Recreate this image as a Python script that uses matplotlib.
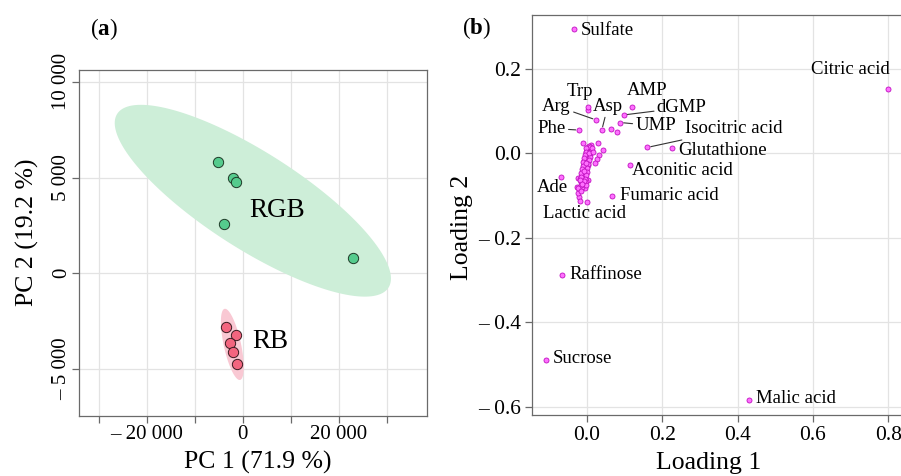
import numpy as np
import matplotlib
matplotlib.use("Agg")
import matplotlib.pyplot as plt

plt.rcParams["font.family"] = ["Liberation Serif", "DejaVu Serif"]
plt.rcParams["mathtext.fontset"] = "custom"
plt.rcParams["mathtext.rm"] = "Liberation Serif"
plt.rcParams["mathtext.bf"] = "Liberation Serif:bold"

# ---- panel (a): PCA scores ----
rgb_pc1 = [-5146, -1958, -1458, -3833, 22979]
rgb_pc2 = [5831, 4963, 4754, 2591, 815]
rb_pc1 = [-3542, -1333, -2646, -2083, -1188]
rb_pc2 = [-2821, -3208, -3657, -4128, -4754]

# ---- panel (b): loadings ----
named = ["Sulfate", "Citric acid", "AMP", "dGMP", "UMP", "Trp", "Arg", "Asp", "Phe",
         "Isocitric acid", "Glutathione", "Aconitic acid", "Fumaric acid", "Ade",
         "Lactic acid", "Raffinose", "Sucrose", "Malic acid"]
named_l1 = [-0.034, 0.800, 0.119, 0.099, 0.089, 0.004, 0.025, 0.040, -0.020,
            0.161, 0.227, 0.114, 0.068, -0.068, 0.000, -0.066, -0.108, 0.430]
named_l2 = [0.294, 0.152, 0.110, 0.091, 0.073, 0.110, 0.079, 0.055, 0.055,
            0.014, 0.013, -0.027, -0.100, -0.056, -0.115, -0.289, -0.490, -0.585]

other_l1 = [0.003, 0.064, 0.080, -0.009, 0.011, 0.031, 0.044, 0.033, 0.027, 0.022,
            0.004, 0.008, 0.010, 0.002, 0.006, 0.000, 0.011, 0.003, -0.002, 0.007,
            0.001, -0.004, 0.005, -0.001, -0.006, 0.003, -0.003, -0.008, 0.001, -0.005,
            -0.010, -0.002, -0.007, -0.012, -0.004, -0.009, -0.014, -0.006, -0.011, 0.004,
            -0.022, -0.016, -0.008, -0.027, -0.018, -0.005, -0.020, -0.018, -0.013, -0.022,
            0.006, 0.009, 0.004, 0.000, 0.007, -0.001, 0.002, -0.004, 0.003, -0.006,
            -0.001, -0.008, -0.003, -0.010, -0.005, -0.012, -0.007, -0.009, -0.015, -0.003,
            0.012, 0.005, -0.002, -0.011, -0.017, -0.024, -0.014, -0.002,
            0.010, -0.001, 0.012, 0.009, -0.003, 0.008, -0.005, 0.006, -0.007, 0.004,
            -0.009, 0.002, -0.011, 0.000, -0.013, -0.002, -0.015, -0.004, -0.016, -0.008,
            -0.019, -0.012, 0.007, -0.001, -0.006, 0.015, 0.018]
other_l2 = [0.102, 0.058, 0.050, 0.024, 0.020, 0.025, 0.008, -0.004, -0.014, -0.024,
            0.016, 0.012, 0.008, 0.010, 0.004, 0.005, 0.002, 0.000, -0.002, -0.004,
            -0.008, -0.010, -0.012, -0.016, -0.018, -0.020, -0.024, -0.027, -0.030, -0.033,
            -0.036, -0.039, -0.043, -0.046, -0.049, -0.053, -0.056, -0.058, -0.062, -0.063,
            -0.059, -0.068, -0.071, -0.079, -0.087, -0.083, -0.103, -0.112, -0.080, -0.095,
            0.014, 0.005, 0.007, -0.005, -0.001, -0.011, -0.014, -0.021, -0.027, -0.028,
            -0.034, -0.038, -0.045, -0.050, -0.055, -0.052, -0.065, -0.060, -0.074, -0.066,
            0.010, 0.018, 0.002, -0.040, -0.062, -0.083, -0.090, -0.074,
            0.015, 0.012, 0.006, -0.002, 0.003, -0.009, -0.004, -0.017, -0.012, -0.026,
            -0.020, -0.035, -0.029, -0.044, -0.038, -0.052, -0.047, -0.060, -0.055, -0.066,
            -0.064, -0.073, 0.001, -0.022, -0.041, 0.012, 0.004]

# label placement (data coords of text), alignment, leader line
lab_x = [-0.015, 0.698, 0.159, 0.252, 0.183, -0.018, -0.080, 0.056, -0.093,
         0.389, 0.244, 0.119, 0.088, -0.090, -0.006, -0.047, -0.091, 0.449]
lab_y = [0.290, 0.199, 0.149, 0.108, 0.065, 0.147, 0.112, 0.112, 0.059,
         0.058, 0.006, -0.040, -0.101, -0.081, -0.143, -0.288, -0.486, -0.582]
lab_ha = ["left", "center", "center", "center", "center", "center", "center", "center", "center",
          "center", "left", "left", "left", "center", "center", "left", "left", "left"]
lab_line = [False, False, False, True, True, False, True, True, True,
            True, False, False, False, False, False, False, False, False]

W, H = 901, 476
fig = plt.figure(figsize=(W / 100, H / 100), dpi=100)
grid_c = "#e3e3e3"
spine_c = "#6a6a6a"


def px_axes(l, t, r, b):
    return fig.add_axes([l / W, (H - b) / H, (r - l) / W, (b - t) / H])


def ellipse(ax, xs, ys, color):
    pts = np.column_stack([xs, ys]).astype(float)
    mu = pts.mean(axis=0)
    vals, vecs = np.linalg.eigh(np.cov(pts.T))
    t = np.linspace(0, 2 * np.pi, 200)
    r = np.sqrt(5.991)  # 95 % chi-square, 2 dof
    circ = np.stack([np.cos(t), np.sin(t)])
    e = vecs @ (np.sqrt(vals)[:, None] * circ) * r + mu[:, None]
    ax.fill(e[0], e[1], color=color, lw=0, zorder=1)


# ---------- (a) ----------
ax = px_axes(79, 70, 427, 416)
ellipse(ax, rgb_pc1, rgb_pc2, "#cdeed8")
ellipse(ax, rb_pc1, rb_pc2, "#f9c8d3")
ax.scatter(rgb_pc1, rgb_pc2, s=55, c="#55cb8d", edgecolors="#1e3a28", linewidths=0.7, zorder=3)
ax.scatter(rb_pc1, rb_pc2, s=55, c="#f3657f", edgecolors="#3a1a20", linewidths=0.7, zorder=3)
ax.text(1400, 3300, "RGB", fontsize=19.5, va="center", ha="left")
ax.text(2000, -3550, "RB", fontsize=19.5, va="center", ha="left")
ax.set_xlim(-34100, 38400)
ax.set_ylim(-7455, 10620)
ax.set_xticks([-30000, -20000, -10000, 0, 10000, 20000, 30000])
ax.set_xticklabels(["", "\u2013 20 000", "", "0", "", "20 000", ""], fontsize=15)
ax.set_yticks([-5000, 0, 5000, 10000])
ax.set_yticklabels(["\u2013 5 000", "0", "5 000", "10 000"], fontsize=15,
                   rotation=90, va="center")
ax.grid(True, color=grid_c, lw=0.9)
ax.set_axisbelow(True)
ax.tick_params(length=5, width=0.9, color=spine_c, pad=1.5)
ax.tick_params(axis="y", pad=0.5)
for s in ax.spines.values():
    s.set_color(spine_c)
    s.set_linewidth(0.9)
ax.set_xlabel("PC 1 (71.9 %)", fontsize=18.5)
ax.set_ylabel("PC 2 (19.2 %)", fontsize=18.5)
ax.xaxis.set_label_coords(0.515, -0.133)
ax.yaxis.set_label_coords(-0.147, 0.532)
ax.xaxis.label.set_va("center")
ax.yaxis.label.set_va("center")
fig.text(104 / W, 1 - 29 / H, r"($\mathbf{a}$)", fontsize=16.5, ha="center", va="center")

# ---------- (b) ----------
bx = px_axes(532.3, 15, 907.2, 415)
pink_face = "#ff70ff"
pink_edge = "#c010c0"
bx.scatter(other_l1, other_l2, s=13, c=pink_face, edgecolors=pink_edge, linewidths=0.6, zorder=3)
bx.scatter(named_l1, named_l2, s=13, c=pink_face, edgecolors=pink_edge, linewidths=0.6, zorder=3)
for i, name in enumerate(named):
    if lab_line[i]:
        bx.annotate(name, xy=(named_l1[i], named_l2[i]), xytext=(lab_x[i], lab_y[i]),
                    fontsize=13.5, ha=lab_ha[i], va="center", zorder=4,
                    arrowprops=dict(arrowstyle="-", color="#333333", lw=0.8,
                                    shrinkA=0, shrinkB=2.5))
    else:
        bx.text(lab_x[i], lab_y[i], name, fontsize=13.5, ha=lab_ha[i], va="center", zorder=4)
bx.set_xlim(-0.1443, 0.85)
bx.set_ylim(-0.620, 0.3277)
bx.set_xticks([0.0, 0.2, 0.4, 0.6, 0.8])
bx.set_xticklabels(["0.0", "0.2", "0.4", "0.6", "0.8"], fontsize=15.5)
bx.set_yticks([-0.6, -0.4, -0.2, 0.0, 0.2])
bx.set_yticklabels(["\u2013 0.6", "\u2013 0.4", "\u2013 0.2", "0.0", "0.2"], fontsize=15.5)
bx.grid(True, color=grid_c, lw=0.9)
bx.set_axisbelow(True)
bx.tick_params(length=5, width=0.9, color=spine_c, pad=3)
for s in bx.spines.values():
    s.set_color(spine_c)
    s.set_linewidth(0.9)
bx.set_xlabel("Loading 1", fontsize=18.5)
bx.set_ylabel("Loading 2", fontsize=18.5)
bx.xaxis.set_label_coords(0.471, -0.12)
bx.yaxis.set_label_coords(-0.188, 0.468)
bx.xaxis.label.set_va("center")
bx.yaxis.label.set_va("center")
fig.text(476 / W, 1 - 28 / H, r"($\mathbf{b}$)", fontsize=16.5, ha="center", va="center")

fig.savefig("out.png", dpi=100)
